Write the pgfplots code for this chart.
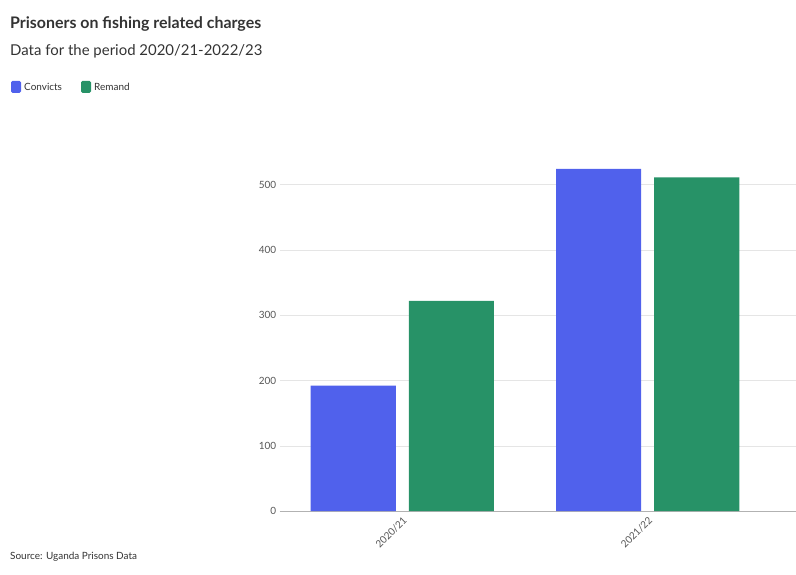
\documentclass[border=0pt]{standalone}
\usepackage{pgfplots}
\pgfplotsset{compat=1.18}
\usepackage{fontspec}
\setmainfont{Lato}
\definecolor{conv}{HTML}{5061EC}
\definecolor{rem}{HTML}{279267}
\definecolor{txt}{HTML}{333333}
\definecolor{tk}{HTML}{555555}
\begin{document}
\begin{tikzpicture}[x=1bp,y=1bp]
\useasboundingbox (0,0) rectangle (796,575);
\node[anchor=base west,font=\bfseries\fontsize{16}{19}\selectfont,text=txt,inner sep=0] at (10,575-29) {Prisoners on fishing related charges};
\node[anchor=base west,font=\fontsize{15}{18}\selectfont,text=txt,inner sep=0] at (10,575-56) {Data for the period 2020/21-2022/23};
\fill[conv,rounded corners=1.5] (11,575-93) rectangle (21,575-81);
\node[anchor=west,font=\fontsize{10}{12}\selectfont,text=txt,inner sep=0] at (24,575-87) {Convicts};
\fill[rem,rounded corners=1.5] (81,575-93) rectangle (91,575-81);
\node[anchor=west,font=\fontsize{10}{12}\selectfont,text=txt,inner sep=0] at (94,575-87) {Remand};
\node[anchor=base west,font=\fontsize{10}{12}\selectfont,text=txt,inner sep=0] at (10,575-560) {Source: Uganda Prisons Data};
\begin{axis}[at={(164,98)},anchor=origin,scale only axis,width=736bp,height=359bp,
 xmin=-0.5,xmax=2.5,ymin=0,ymax=550,
 axis lines*=left,
 x axis line style={draw=gray!60}, y axis line style={draw=none},
 ytick={0,100,200,300,400,500}, ymajorgrids, grid style={draw=gray!20},
 xtick={0,1,2}, xticklabels={2020/21,2021/22,2022/23}, major tick length=0pt,
 xticklabel style={rotate=45,anchor=north east,font=\fontsize{10}{12}\selectfont,text=tk},
 yticklabel style={font=\fontsize{10}{12}\selectfont,text=tk},
 /pgf/number format/assume math mode=true,
 clip=false]
\addplot[ybar,bar width=0.347,fill=conv,draw=none] coordinates {(-0.2,192) (0.8,524) (1.8,400)};
\addplot[ybar,bar width=0.347,fill=rem,draw=none] coordinates {(0.2,322) (1.2,511) (2.2,239)};
\end{axis}
\end{tikzpicture}
\end{document}
